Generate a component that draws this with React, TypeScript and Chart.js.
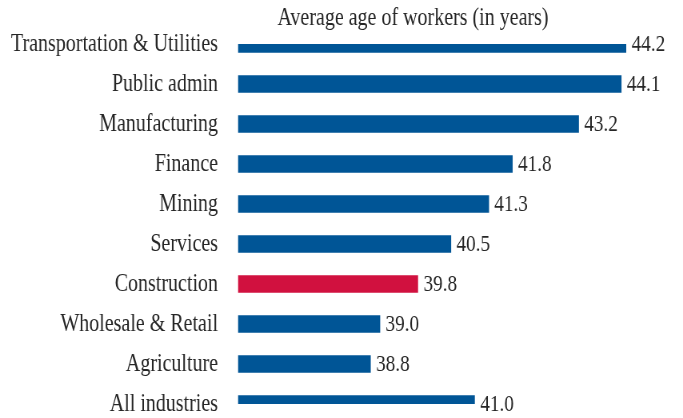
import React, { useEffect, useRef } from "react";
import { Chart, registerables } from "chart.js";

Chart.register(...registerables);

// ---- data ----
const categories = [
  "Transportation & Utilities",
  "Public admin",
  "Manufacturing",
  "Finance",
  "Mining",
  "Services",
  "Construction",
  "Wholesale & Retail",
  "Agriculture",
  "All industries",
];
const averageAge = [44.2, 44.1, 43.2, 41.8, 41.3, 40.5, 39.8, 39.0, 38.8, 41.0];
const highlighted = ["Construction"];
const chartTitle = "Average age of workers (in years)";
const axisMin = 36;
const axisMax = 45;

// ---- style ----
const BLUE = "#005596";
const RED = "#D1113F";
const TEXT = "#262626";
const FONT = "'Liberation Serif', 'Times New Roman', serif";
const W = 683;
const H = 418;
const IW = 854; // internal width, condensed horizontally to W
const SX = W / IW;

const labelsPlugin = {
  id: "valueLabelsAndTitle",
  afterDatasetsDraw(chart: any) {
    const ctx = chart.ctx;
    const meta = chart.getDatasetMeta(0);
    ctx.save();
    ctx.font = `24px ${FONT}`;
    ctx.fillStyle = TEXT;
    ctx.textBaseline = "middle";
    ctx.textAlign = "left";
    meta.data.forEach((bar: any, i: number) => {
      ctx.fillText(averageAge[i].toFixed(1), bar.x + 7, bar.y + 1);
    });
    ctx.font = `25px ${FONT}`;
    ctx.textAlign = "center";
    ctx.fillText(chartTitle, 413 / SX, 18);
    ctx.restore();
  },
};

export default function App() {
  const ref = useRef<HTMLCanvasElement | null>(null);

  useEffect(() => {
    document.body.style.margin = "0";
    const canvas = ref.current;
    if (!canvas) return;
    const chart = new Chart(canvas, {
      type: "bar",
      data: {
        labels: categories,
        datasets: [
          {
            data: averageAge,
            base: axisMin,
            backgroundColor: categories.map((c) => (highlighted.includes(c) ? RED : BLUE)),
            borderWidth: 0,
            barThickness: 17,
          },
        ],
      },
      options: {
        indexAxis: "y",
        responsive: false,
        animation: false,
        devicePixelRatio: 1,
        layout: { padding: { top: 44, bottom: 14, left: 0, right: 24 } },
        plugins: {
          legend: { display: false },
          tooltip: { enabled: false },
          title: { display: false },
        },
        scales: {
          x: { type: "linear", min: axisMin, max: axisMax, display: false },
          y: {
            type: "category",
            offset: false,
            grid: { display: false, drawTicks: false },
            border: { display: false },
            ticks: {
              padding: 25,
              color: TEXT,
              font: { family: FONT, size: 25 },
            },
            afterFit: (scale: any) => {
              scale.width = 297.6;
              scale.paddingTop = 0;
              scale.paddingBottom = 0;
            },
          },
        },
      },
      plugins: [labelsPlugin],
    });
    return () => chart.destroy();
  }, []);

  return (
    <div style={{ position: "fixed", left: 0, top: 0, width: W, height: H, overflow: "hidden", background: "#fff" }}>
      <div style={{ width: IW, height: H, transform: `scaleX(${SX})`, transformOrigin: "0 0" }}>
        <canvas ref={ref} width={IW} height={H} style={{ display: "block" }} />
      </div>
    </div>
  );
}
